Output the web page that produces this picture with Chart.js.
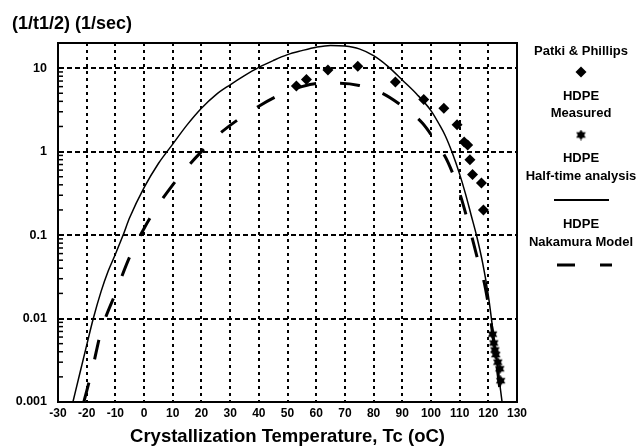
<!DOCTYPE html>
<html>
<head>
<meta charset="utf-8">
<script src="https://cdn.jsdelivr.net/npm/chart.js@4/dist/chart.umd.min.js"></script>
<style>
  html, body { margin: 0; background: #fff; }
  #wrap { width: 639px; height: 448px; position: relative; }
</style>
</head>
<body>
<div id="wrap"><canvas id="myChart"></canvas></div>
<script>
// axis ticks
const xTicks = [-30, -20, -10, 0, 10, 20, 30, 40, 50, 60, 70, 80, 90, 100, 110, 120, 130]
const yTicks = [0.001, 0.01, 0.1, 1, 10]
const yTickLabels = ['0.001', '0.01', '0.1', '1', '10']
const minorFactors = [2, 3, 4, 5, 6, 7, 8, 9]

// HDPE half-time analysis (solid curve)
const halfTimeTemps = [-24.8, -22, -20, -17.7, -15, -12.5, -10, -7.4, -5, 0, 5, 10, 15, 20, 25, 30, 35, 40, 45, 50, 55, 60, 65, 70, 75, 80, 85, 90, 95, 100, 103, 105, 107.5, 110, 112, 114, 116, 118, 120, 122, 124.8]
const halfTimeRates = [0.001, 0.0025, 0.0048, 0.01, 0.021, 0.037, 0.059, 0.098, 0.162, 0.37, 0.72, 1.23, 2.09, 3.31, 4.79, 6.31, 8.13, 10.2, 12.3, 14.5, 16.2, 17.8, 18.7, 18.4, 17.0, 14.1, 10.5, 7.2, 4.9, 3.1, 2.09, 1.55, 0.955, 0.537, 0.316, 0.174, 0.0955, 0.0468, 0.019, 0.0056, 0.001]

// HDPE Nakamura model (dashed curve)
const nakamuraTemps = [-21, -18, -15, -10, -5, 0, 5, 10, 15, 20, 26, 33, 40, 48, 55, 62, 68, 75, 83, 90, 97, 102, 106, 110, 113, 116, 119, 122, 124.6]
const nakamuraRates = [0.001, 0.0025, 0.007, 0.02, 0.055, 0.12, 0.23, 0.4, 0.65, 1.0, 1.6, 2.45, 3.5, 4.9, 6.0, 6.6, 6.6, 6.2, 5.0, 3.5, 2.2, 1.26, 0.74, 0.32, 0.14, 0.056, 0.023, 0.005, 0.001]

// Patki & Phillips (diamonds)
const patkiTemps = [53.1, 56.6, 64.1, 74.5, 87.6, 97.5, 104.5, 109.1, 111.6, 112.8, 113.6, 114.5, 117.6, 118.3]
const patkiRates = [6.1, 7.3, 9.5, 10.5, 6.8, 4.2, 3.3, 2.1, 1.3, 1.2, 0.8, 0.53, 0.42, 0.2]

// HDPE measured (stars)
const measuredTemps = [121.5, 121.9, 122.3, 122.6, 123.3, 124.0, 124.3]
const measuredRates = [0.0065, 0.0051, 0.0042, 0.0037, 0.003, 0.0025, 0.0018]

const legendRows = [
  { text: 'Patki & Phillips', y: 51 },
  { mark: 'diamond', y: 72 },
  { text: 'HDPE', y: 96 },
  { text: 'Measured', y: 113 },
  { mark: 'star', y: 135 },
  { text: 'HDPE', y: 158 },
  { text: 'Half-time analysis', y: 176 },
  { mark: 'line', y: 200 },
  { text: 'HDPE', y: 224 },
  { text: 'Nakamura Model', y: 242 },
  { mark: 'dash', y: 265 }
]

const FONT = '"Liberation Sans", Arial, sans-serif'

function makeStar(size) {
  const c = document.createElement('canvas')
  c.width = c.height = size
  const g = c.getContext('2d')
  const r = size / 2
  g.fillStyle = '#000'
  for (const rot of [-Math.PI / 2, Math.PI / 2]) {
    g.beginPath()
    for (let i = 0; i < 3; i++) {
      const a = rot + i * 2 * Math.PI / 3
      const px = r + r * Math.cos(a), py = r + r * Math.sin(a)
      if (i) g.lineTo(px, py); else g.moveTo(px, py)
    }
    g.closePath()
    g.fill()
  }
  return c
}
const starImg = makeStar(11)

const pairs = (xs, ys) => xs.map((x, i) => ({ x, y: ys[i] }))

const frame = {
  id: 'frame',
  afterDraw(chart) {
    const { ctx, chartArea: a, scales: { y } } = chart
    ctx.save()
    ctx.strokeStyle = '#000'
    ctx.lineWidth = 2
    ctx.strokeRect(a.left, a.top, a.right - a.left, a.bottom - a.top)
    // small inward minor ticks on the log axis
    ctx.lineWidth = 1.5
    yTicks.forEach(d => minorFactors.forEach(m => {
      const v = d * m
      if (v > y.max) return
      const py = y.getPixelForValue(v)
      ctx.beginPath(); ctx.moveTo(a.left, py); ctx.lineTo(a.left + 5, py); ctx.stroke()
    }))
    // legend
    const cx = 581
    ctx.fillStyle = '#000'
    ctx.font = 'bold 13px ' + FONT
    ctx.textAlign = 'center'
    ctx.textBaseline = 'middle'
    legendRows.forEach(row => {
      if (row.text) { ctx.fillText(row.text, cx, row.y); return }
      if (row.mark === 'diamond') {
        ctx.beginPath()
        ctx.moveTo(cx, row.y - 5.5); ctx.lineTo(cx + 5.5, row.y); ctx.lineTo(cx, row.y + 5.5); ctx.lineTo(cx - 5.5, row.y)
        ctx.closePath(); ctx.fill()
      } else if (row.mark === 'star') {
        ctx.drawImage(starImg, cx - 5.5, row.y - 5.5)
      } else if (row.mark === 'line') {
        ctx.lineWidth = 2
        ctx.beginPath(); ctx.moveTo(cx - 27, row.y); ctx.lineTo(cx + 28, row.y); ctx.stroke()
      } else if (row.mark === 'dash') {
        ctx.lineWidth = 3
        ctx.beginPath(); ctx.moveTo(cx - 24, row.y); ctx.lineTo(cx - 6, row.y)
        ctx.moveTo(cx + 19, row.y); ctx.lineTo(cx + 31, row.y); ctx.stroke()
      }
    })
    ctx.restore()
  }
}

const clearEdge = (edges) => (c) => edges.includes(c.tick && c.tick.value) ? 'rgba(0,0,0,0)' : '#000'

new Chart(document.getElementById('myChart'), {
  type: 'line',
  data: {
    datasets: [
      {
        label: 'Patki & Phillips',
        data: pairs(patkiTemps, patkiRates),
        showLine: false,
        pointStyle: 'rectRot',
        pointRadius: 5.5,
        backgroundColor: '#000',
        borderColor: '#000',
        borderWidth: 0
      },
      {
        label: 'HDPE Measured',
        data: pairs(measuredTemps, measuredRates),
        showLine: false,
        pointStyle: starImg,
        borderColor: '#000',
        backgroundColor: '#000'
      },
      {
        label: 'HDPE Half-time analysis',
        data: pairs(halfTimeTemps, halfTimeRates),
        borderColor: '#000',
        borderWidth: 1.5,
        pointRadius: 0,
        cubicInterpolationMode: 'monotone'
      },
      {
        label: 'HDPE Nakamura Model',
        data: pairs(nakamuraTemps, nakamuraRates),
        borderColor: '#000',
        borderWidth: 3,
        borderDash: [20, 24],
        pointRadius: 0,
        cubicInterpolationMode: 'monotone'
      }
    ]
  },
  options: {
    responsive: true,
    maintainAspectRatio: false,
    animation: false,
    layout: { padding: { left: 12, right: 122, top: 2, bottom: 0 } },
    plugins: {
      legend: { display: false },
      tooltip: { enabled: false },
      title: {
        display: true,
        text: '(1/t1/2) (1/sec)',
        align: 'start',
        color: '#000',
        font: { family: FONT, size: 18, weight: 'bold' },
        padding: { top: 11, bottom: 8.4 }
      }
    },
    scales: {
      x: {
        type: 'linear',
        min: -30,
        max: 130,
        afterBuildTicks: s => { s.ticks = xTicks.map(v => ({ value: v })) },
        afterFit: s => { s.height = 46 },
        ticks: { color: '#000', padding: 4, maxRotation: 0, autoSkip: false, font: { family: FONT, size: 12, weight: 'bold' } },
        grid: { drawTicks: false, lineWidth: 2, color: clearEdge([-30, 130]) },
        border: { display: true, color: '#000', width: 2, dash: [3, 4] },
        title: {
          display: true,
          text: 'Crystallization Temperature, Tc (oC)',
          color: '#000',
          padding: { top: 2, bottom: 0 },
          font: { family: FONT, size: 18.5, weight: 'bold' }
        }
      },
      y: {
        type: 'logarithmic',
        min: 0.001,
        max: 20,
        afterBuildTicks: s => { s.ticks = yTicks.map(v => ({ value: v })) },
        afterFit: s => { s.width = 46 },
        ticks: {
          color: '#000',
          padding: 11,
          autoSkip: false,
          font: { family: FONT, size: 12.5, weight: 'bold' },
          callback: (v, i) => yTickLabels[i]
        },
        grid: { drawTicks: false, lineWidth: 2, color: clearEdge([0.001]) },
        border: { display: true, color: '#000', width: 2, dash: [5, 3] }
      }
    }
  },
  plugins: [frame]
})
</script>
</body>
</html>
